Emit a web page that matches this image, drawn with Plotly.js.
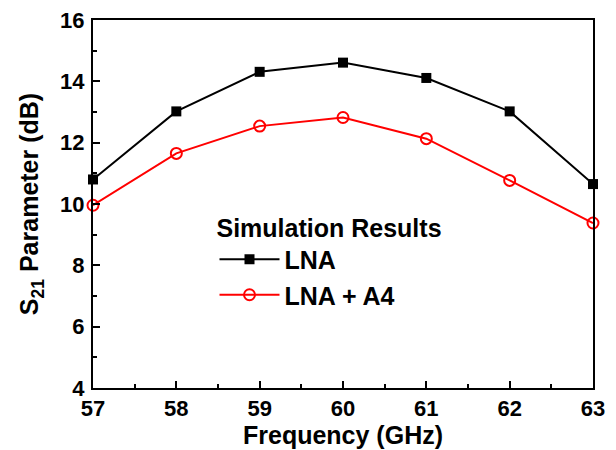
<!DOCTYPE html>
<html>
<head>
<meta charset="utf-8">
<script src="https://cdn.plot.ly/plotly-3.0.1.min.js"></script>
<style>html,body{margin:0;padding:0;background:#fff;}#chart{width:616px;height:450px;}</style>
</head>
<body>
<div id="chart"></div>
<script>
var frequency = [57, 58, 59, 60, 61, 62, 63];
var lnaS21 = [10.8, 13.02, 14.31, 14.61, 14.11, 13.02, 10.65];
var lnaA4S21 = [9.96, 11.65, 12.54, 12.82, 12.13, 10.77, 9.38];
var xTicks = [57, 58, 59, 60, 61, 62, 63];
var yTicks = [4, 6, 8, 10, 12, 14, 16];
var seriesNames = ['LNA', 'LNA + A4'];

var fontFam = 'Liberation Sans, Arial, sans-serif';

var traces = [
  {
    x: frequency, y: lnaS21, name: '<b>' + seriesNames[0] + '</b>', type: 'scatter', mode: 'lines+markers',
    line: {color: '#000000', width: 2},
    marker: {symbol: 'square', size: 10, color: '#000000'},
    cliponaxis: false
  },
  {
    x: frequency, y: lnaA4S21, name: '<b>' + seriesNames[1] + '</b>', type: 'scatter', mode: 'lines+markers',
    line: {color: '#ff0000', width: 2},
    marker: {symbol: 'circle-open', size: 11, color: '#ff0000', line: {width: 2, color: '#ff0000'}},
    cliponaxis: false
  }
];

var layout = {
  width: 616, height: 450,
  margin: {l: 93, r: 23, t: 20, b: 62},
  paper_bgcolor: '#ffffff', plot_bgcolor: '#ffffff',
  font: {family: fontFam, color: '#000000'},
  showlegend: true,
  legend: {
    x: 0.243, y: 0.5, xanchor: 'left', yanchor: 'top',
    bgcolor: 'rgba(0,0,0,0)',
    itemwidth: 60,
    title: {text: '<b>Simulation Results</b>', font: {size: 25, family: fontFam, color: '#000'}},
    font: {size: 25, family: fontFam, color: '#000'},
    tracegroupgap: 0
  },
  xaxis: {
    range: [57, 63], tickmode: 'array', tickvals: xTicks,
    ticktext: xTicks.map(function(v){return '<b>' + v + '</b>';}),
    ticks: 'inside', ticklen: 7, tickwidth: 2, tickcolor: '#000',
    minor: {dtick: 0.5, ticks: 'inside', ticklen: 4, tickwidth: 2, tickcolor: '#000'},
    showline: true, linewidth: 2, linecolor: '#000', mirror: true,
    showgrid: false, zeroline: false,
    tickfont: {size: 22, family: fontFam, color: '#000'},
    title: {text: '<b>Frequency (GHz)</b>', font: {size: 25, family: fontFam, color: '#000'}, standoff: 4}
  },
  yaxis: {
    range: [4, 16], tickmode: 'array', tickvals: yTicks,
    ticktext: yTicks.map(function(v){return '<b>' + v + '</b>';}),
    ticks: 'inside', ticklen: 7, tickwidth: 2, tickcolor: '#000',
    minor: {dtick: 1, ticks: 'inside', ticklen: 4, tickwidth: 2, tickcolor: '#000'},
    showline: true, linewidth: 2, linecolor: '#000', mirror: true,
    showgrid: false, zeroline: false,
    ticklabelstandoff: 2,
    tickfont: {size: 22, family: fontFam, color: '#000'},
    title: {text: '<b>S<sub>21</sub> Parameter (dB)</b>', font: {size: 25, family: fontFam, color: '#000'}, standoff: 14}
  }
};

Plotly.newPlot('chart', traces, layout, {staticPlot: true, displayModeBar: false});
</script>
</body>
</html>
